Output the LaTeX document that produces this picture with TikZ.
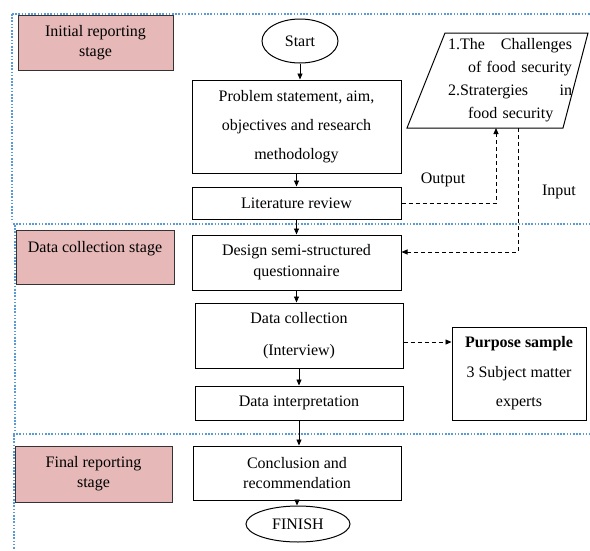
\documentclass[tikz,border=0pt]{standalone}
\usepackage{fontspec}
\setmainfont{Liberation Serif}
\usetikzlibrary{arrows.meta,shapes.geometric,calc}
\definecolor{stagepink}{HTML}{E6B8B7}
\definecolor{dotblue}{HTML}{5B9BD5}
\begin{document}
\begin{tikzpicture}[x=1pt,y=-1pt,
 every node/.style={font=\fontsize{16}{20}\selectfont, inner sep=0pt},
 box/.style={draw, line width=1pt, rectangle, align=center},
 stagebox/.style={draw=black!80, line width=1pt, fill=stagepink, align=center},
 term/.style={draw, line width=1pt, ellipse},
 flow/.style={-{Triangle[length=6pt,width=5pt]}, line width=0.9pt},
 dflow/.style={flow, dash pattern=on 4pt off 3pt},
 sep/.style={dotblue, line width=1.8pt, dash pattern=on 1.6pt off 1.6pt}]
\useasboundingbox[fill=white] (0,0) rectangle (590,550);

% stage separators
\draw[sep] (12,14) -- (590,14);
\draw[sep] (12,14) -- (12,222);
\draw[sep] (13,224) -- (590,224);
\draw[sep] (15,225) -- (15,432);
\draw[sep] (13,434) -- (590,434);
\draw[sep] (14,435) -- (14,550);

% stage labels
\node[stagebox, minimum width=155pt, minimum height=55pt] (s1) at (95.5,42.5) {Initial reporting\\ stage};
\node[stagebox, minimum width=158pt, minimum height=54pt] (s2) at (95,257) {Data collection stage\\ \mbox{}};
\node[stagebox, minimum width=157pt, minimum height=56pt] (s3) at (93.5,474) {Final reporting\\ stage};

% main flow
\node[term, minimum width=76pt, minimum height=44pt] (start) at (300,41) {Start};
\node[box, minimum width=209pt, minimum height=93pt, font=\fontsize{16}{29}\selectfont] (prob) at (296.5,126.5) {Problem statement, aim,\\ objectives and research\\ methodology};
\node[box, minimum width=209pt, minimum height=32pt] (lit) at (296.5,203) {Literature review};
\node[box, minimum width=209pt, minimum height=55pt, font=\fontsize{16}{21}\selectfont] (design) at (296.5,262.5) {Design semi-structured\\ questionnaire};
\node[box, minimum width=208pt, minimum height=65pt, font=\fontsize{16}{32}\selectfont] (coll) at (299,335.5) {Data collection\\ (Interview)};
\node[box, minimum width=208pt, minimum height=34pt] (interp) at (299,403) {Data interpretation};
\node[box, minimum width=208pt, minimum height=54pt] (concl) at (297,473) {Conclusion and\\ recommendation};
\node[term, minimum width=104pt, minimum height=36pt] (finish) at (298,524) {FINISH};

% purpose sample
\node[box, minimum width=134pt, minimum height=93pt, font=\fontsize{16}{29.5}\selectfont] (purp) at (519,373.5) {\textbf{Purpose sample}\\ 3 Subject matter\\ experts};

% parallelogram (data)
\coordinate (pTL) at (445,33);
\coordinate (pTR) at (588,33);
\coordinate (pBR) at (563,128);
\coordinate (pBL) at (407,128);
\draw[line width=1pt] (pTL) -- (pTR) -- (pBR) -- (pBL) -- cycle;
\node[align=left, text width=124pt, font=\fontsize{16}{23}\selectfont] (para) at (510,80)
 {1.The\hfill Challenges\\ \hspace*{20pt}of food security\\ 2.Stratergies\hfill in\\ \hspace*{20pt}food security};
\coordinate (outin) at (496,128);
\coordinate (inout) at (518,128);

% labels
\node (outlbl) at (443,180) {Output};
\node (inlbl) at (559,192) {Input};

% flow arrows
\draw[flow] (start) -- (start |- prob.north);
\draw[flow] (prob.south) -- (lit.north);
\draw[flow] (lit.south) -- (design.north);
\draw[flow] (design.south) -- (design.south |- coll.north);
\draw[flow] (coll.south) -- (coll.south |- interp.north);
\draw[flow] (interp.south) -- (interp.south |- concl.north);
\draw[flow] (concl.south) -- (concl.south |- finish.north);

% dashed connectors
\draw[dflow] (lit.east) -| (outin);
\draw[dflow] (inout) |- ([yshift=10.5pt]design.east);
\draw[dflow] ([yshift=-6.5pt]coll.east) coordinate (cx) -- (cx -| purp.west);
\end{tikzpicture}
\end{document}
